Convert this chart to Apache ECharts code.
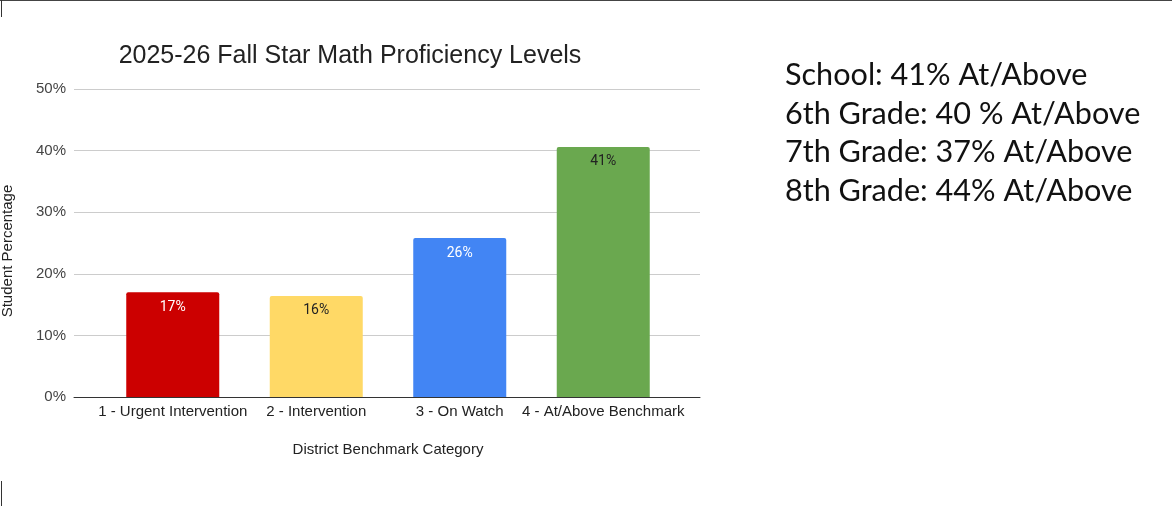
<!DOCTYPE html>
<html>
<head>
<meta charset="utf-8">
<script src="https://cdn.jsdelivr.net/npm/echarts@6/dist/echarts.min.js"></script>
<style>
  html, body { margin: 0; padding: 0; background: #fff; }
  #chart { width: 1172px; height: 506px; }
</style>
</head>
<body>
<div id="chart"></div>
<script>
const categories = ['1 - Urgent Intervention', '2 - Intervention', '3 - On Watch', '4 - At/Above Benchmark']
const values = [17.0, 16.4, 25.8, 40.6]
const barColors = ['#cc0000', '#ffd966', '#4285f4', '#6aa84f']
const labelColors = ['#ffffff', '#222222', '#ffffff', '#222222']
const summaryLines = [
  'School: 41% At/Above',
  '6th Grade: 40 % At/Above',
  '7th Grade: 37% At/Above',
  '8th Grade: 44% At/Above'
]

const chart = echarts.init(document.getElementById('chart'))

const font = 'Arial, "Liberation Sans", sans-serif'

const option = {
  animation: false,
  title: {
    text: '2025-26 Fall Star Math Proficiency Levels',
    left: 345,
    top: 39,
    textAlign: 'center',
    textStyle: { fontFamily: font, fontSize: 25, fontWeight: 'normal', color: '#222' }
  },
  grid: [
    // full-width grid for gridlines and baseline
    { left: 74, right: 472, top: 89, bottom: 109, outerBoundsMode: 'none', containLabel: false },
    // inner grid holding the bars (Google-style padding)
    { left: 101, right: 497, top: 89, bottom: 109, outerBoundsMode: 'none', containLabel: false }
  ],
  xAxis: [
    {
      gridIndex: 0,
      type: 'value',
      min: 0,
      max: 1,
      axisLine: { show: true, onZero: false, lineStyle: { color: '#333', width: 1 } },
      axisTick: { show: false },
      axisLabel: { show: false },
      splitLine: { show: false }
    },
    {
      gridIndex: 1,
      type: 'category',
      data: categories,
      axisLine: { show: false },
      axisTick: { show: false },
      axisLabel: { color: '#222', fontFamily: font, fontSize: 15, margin: 7, interval: 0 },
      name: 'District Benchmark Category',
      nameLocation: 'middle',
      nameGap: 45,
      nameTextStyle: { color: '#222', fontFamily: font, fontSize: 15 }
    }
  ],
  yAxis: [
    {
      gridIndex: 0,
      type: 'value',
      min: 0,
      max: 50,
      interval: 10,
      axisLine: { show: false },
      axisTick: { show: false },
      axisLabel: { formatter: '{value}%', color: '#444', fontFamily: font, fontSize: 15, margin: 8 },
      splitLine: { lineStyle: { color: '#cccccc', width: 1 } },
      name: 'Student Percentage',
      nameLocation: 'middle',
      nameGap: 59,
      nameRotate: 90,
      nameTextStyle: { color: '#222', fontFamily: font, fontSize: 15, padding: [0, 16, 0, 0] }
    },
    {
      gridIndex: 1,
      type: 'value',
      min: 0,
      max: 50,
      show: false
    }
  ],
  series: [
    {
      type: 'bar',
      xAxisIndex: 1,
      yAxisIndex: 1,
      barWidth: 93,
      data: values.map((v, i) => ({
        value: v,
        itemStyle: { color: barColors[i], borderRadius: [2, 2, 0, 0] },
        label: { color: labelColors[i] }
      })),
      label: {
        show: true,
        position: 'insideTop',
        distance: 8,
        fontFamily: 'Roboto, sans-serif',
        fontSize: 14,
        formatter: p => Math.round(p.value) + '%'
      }
    }
  ],
  graphic: [
    { type: 'rect', shape: { x: 0, y: 0, width: 1172, height: 1 }, style: { fill: '#444' } },
    { type: 'rect', shape: { x: 1, y: 0, width: 1, height: 17 }, style: { fill: '#333' } },
    { type: 'rect', shape: { x: 1, y: 481, width: 1, height: 25 }, style: { fill: '#333' } },
    ...summaryLines.map((t, i) => ({
      type: 'text',
      left: 785,
      top: 60 + i * 38.5,
      style: { text: t, fill: '#111', font: '30.6px Lato, "Open Sans", sans-serif' }
    }))
  ]
}

chart.setOption(option)
</script>
</body>
</html>
